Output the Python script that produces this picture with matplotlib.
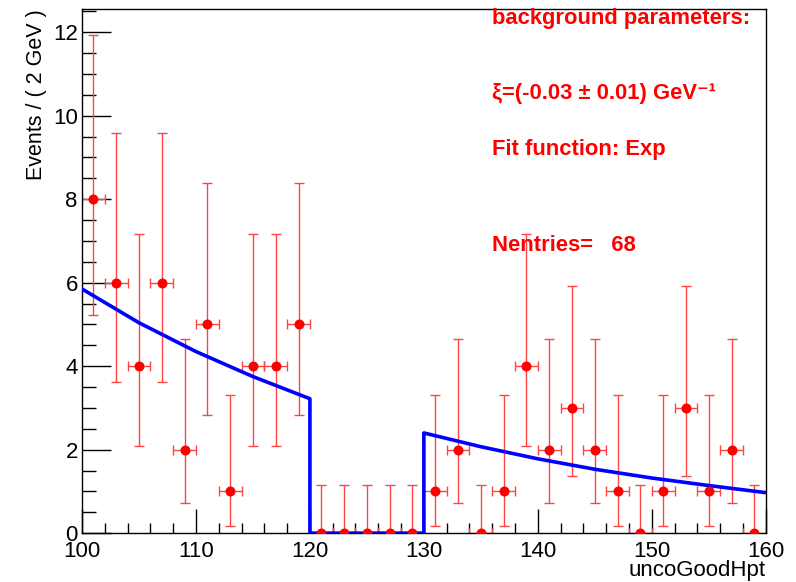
import numpy as np
import matplotlib.pyplot as plt
from matplotlib.ticker import MultipleLocator

plt.rcParams['font.family'] = ['Liberation Sans', 'DejaVu Sans']

# Datos: centros de bin (2 GeV) y cuentas
x_centro = [101, 103, 105, 107, 109, 111, 113, 115, 117, 119,
            121, 123, 125, 127, 129, 131, 133, 135, 137, 139,
            141, 143, 145, 147, 149, 151, 153, 155, 157, 159]
cuentas = [8, 6, 4, 6, 2, 5, 1, 4, 4, 5,
           0, 0, 0, 0, 0, 1, 2, 0, 1, 4,
           2, 3, 2, 1, 0, 1, 3, 1, 2, 0]

# Errores asimetricos (Poisson), por numero de cuentas
err_bajo = {0: 0.0, 1: 0.83, 2: 1.29, 3: 1.63, 4: 1.91, 5: 2.16, 6: 2.38, 8: 2.77}
err_alto = {0: 1.15, 1: 2.30, 2: 2.64, 3: 2.92, 4: 3.16, 5: 3.38, 6: 3.58, 8: 3.94}

# Curva del ajuste exponencial (region 120-130 excluida)
x_ajuste = [100, 105, 110, 115, 120, 120, 130, 130, 135, 140, 145, 150, 155, 160]
y_ajuste = [5.85, 5.04, 4.35, 3.75, 3.22, 0.0, 0.0, 2.40, 2.07, 1.78, 1.53, 1.32, 1.14, 0.97]

ylo = [err_bajo[n] for n in cuentas]
yhi = [err_alto[n] for n in cuentas]

fig = plt.figure(figsize=(7.96, 5.82), dpi=100)
ax = fig.add_axes([0.103, 0.084, 0.859, 0.9])

ax.errorbar(x_centro, cuentas, yerr=[ylo, yhi], xerr=1.0, fmt='none',
            ecolor='#ff4444', elinewidth=1.0, capsize=3.5, capthick=1.0,
            zorder=2)
ax.plot(x_ajuste, y_ajuste, color='#0000ff', lw=2.6, zorder=3)
ax.plot(x_centro, cuentas, 'o', color='#ff0000', markersize=7.2,
        markeredgewidth=0, zorder=4)

ax.set_xlim(100, 160)
ax.set_ylim(0, 12.55)
ax.xaxis.set_major_locator(MultipleLocator(10))
ax.xaxis.set_minor_locator(MultipleLocator(2))
ax.yaxis.set_major_locator(MultipleLocator(2))
ax.yaxis.set_minor_locator(MultipleLocator(0.5))
ax.tick_params(axis='both', which='both', direction='in', top=False,
               right=False, labelsize=16, width=1, color='black')
ax.tick_params(axis='x', which='major', length=17, pad=6)
ax.tick_params(axis='x', which='minor', length=7)
ax.tick_params(axis='y', which='major', length=21, pad=3)
ax.tick_params(axis='y', which='minor', length=10)
for s in ax.spines.values():
    s.set_linewidth(1.0)

ax.set_ylabel('Events / ( 2 GeV )', fontsize=15.5, loc='top', labelpad=4)
ax.set_xlabel('uncoGoodHpt', fontsize=16, ha='right')
ax.xaxis.set_label_coords(1.0, -0.052)

# Textos de los parametros
estilo = dict(color='#ff0000', fontsize=15.8, fontweight='bold',
              ha='left', va='center')
ax.text(135.95, 12.33, 'background parameters:', **estilo)
ax.text(135.95, 10.53, 'ξ=(-0.03 ± 0.01) GeV⁻¹', **estilo)
ax.text(135.95, 9.18, 'Fit function: Exp', **estilo)
ax.text(135.95, 6.88, 'Nentries=   68', **estilo)

fig.savefig('out.png', dpi=100)
